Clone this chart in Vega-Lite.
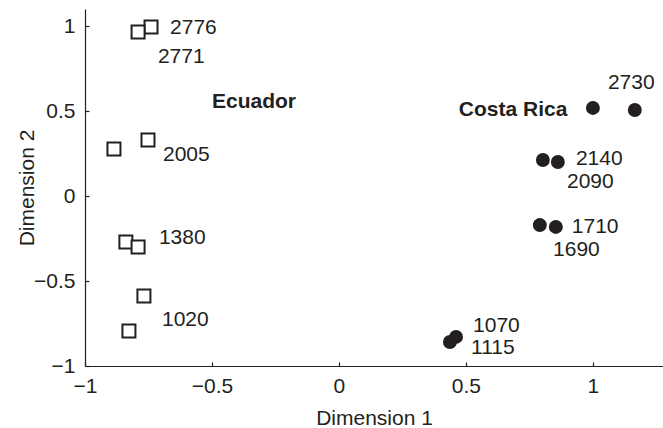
{
  "$schema": "https://vega.github.io/schema/vega-lite/v6.json",
  "width": 578,
  "height": 357,
  "autosize": {"type": "none"},
  "padding": {"left": 85, "top": 9, "right": 0, "bottom": 62},
  "background": "white",
  "config": {
    "view": {"stroke": null},
    "font": "Liberation Sans",
    "axis": {
      "grid": false,
      "domainColor": "#231f20",
      "domainWidth": 1.2,
      "tickColor": "#231f20",
      "tickWidth": 1.2,
      "tickSize": -4,
      "labelFontSize": 21,
      "labelColor": "#231f20",
      "labelFlush": false,
      "labelOverlap": false,
      "titleFontSize": 21,
      "titleFontWeight": "normal",
      "titleColor": "#231f20"
    }
  },
  "datasets": {
    "points": [
      {"site": "Ecuador", "x": -0.740, "y": 0.994},
      {"site": "Ecuador", "x": -0.791, "y": 0.965},
      {"site": "Ecuador", "x": -0.886, "y": 0.276},
      {"site": "Ecuador", "x": -0.752, "y": 0.329},
      {"site": "Ecuador", "x": -0.839, "y": -0.271},
      {"site": "Ecuador", "x": -0.791, "y": -0.300},
      {"site": "Ecuador", "x": -0.768, "y": -0.588},
      {"site": "Ecuador", "x": -0.827, "y": -0.794},
      {"site": "Costa Rica", "x": 1.000, "y": 0.518},
      {"site": "Costa Rica", "x": 1.165, "y": 0.506},
      {"site": "Costa Rica", "x": 0.803, "y": 0.212},
      {"site": "Costa Rica", "x": 0.862, "y": 0.200},
      {"site": "Costa Rica", "x": 0.791, "y": -0.171},
      {"site": "Costa Rica", "x": 0.854, "y": -0.182},
      {"site": "Costa Rica", "x": 0.437, "y": -0.859},
      {"site": "Costa Rica", "x": 0.461, "y": -0.829}
    ],
    "labels": [
      {"kind": "elevation", "text": "2776", "x": -0.665, "y": 0.988},
      {"kind": "elevation", "text": "2771", "x": -0.713, "y": 0.818},
      {"kind": "elevation", "text": "2005", "x": -0.693, "y": 0.241},
      {"kind": "elevation", "text": "1380", "x": -0.709, "y": -0.247},
      {"kind": "elevation", "text": "1020", "x": -0.697, "y": -0.729},
      {"kind": "elevation", "text": "2730", "x": 1.059, "y": 0.665},
      {"kind": "elevation", "text": "2140", "x": 0.933, "y": 0.218},
      {"kind": "elevation", "text": "2090", "x": 0.898, "y": 0.082},
      {"kind": "elevation", "text": "1710", "x": 0.917, "y": -0.182},
      {"kind": "elevation", "text": "1690", "x": 0.843, "y": -0.318},
      {"kind": "elevation", "text": "1070", "x": 0.528, "y": -0.765},
      {"kind": "elevation", "text": "1115", "x": 0.520, "y": -0.894},
      {"kind": "country", "text": "Ecuador", "x": -0.5, "y": 0.553},
      {"kind": "country", "text": "Costa Rica", "x": 0.472, "y": 0.506}
    ]
  },
  "encoding": {
    "x": {
      "field": "x",
      "type": "quantitative",
      "scale": {"domain": [-1, 1.276], "nice": false, "zero": false},
      "axis": {"values": [-1, -0.5, 0, 0.5, 1], "format": "~g", "title": "Dimension 1", "labelPadding": 13, "titleY": 41}
    },
    "y": {
      "field": "y",
      "type": "quantitative",
      "scale": {"domain": [-1, 1.1], "nice": false, "zero": false},
      "axis": {"values": [-1, -0.5, 0, 0.5, 1], "format": "~g", "title": "Dimension 2", "labelPadding": 14, "titleX": -48}
    }
  },
  "layer": [
    {
      "data": {"name": "points"},
      "transform": [{"filter": "datum.site === 'Ecuador'"}],
      "mark": {"type": "point", "shape": "square", "size": 169, "filled": false, "fill": "white", "fillOpacity": 1, "stroke": "#231f20", "strokeWidth": 2, "opacity": 1}
    },
    {
      "data": {"name": "points"},
      "transform": [{"filter": "datum.site === 'Costa Rica'"}],
      "mark": {"type": "point", "shape": "circle", "size": 194, "filled": true, "fill": "#231f20", "fillOpacity": 1, "strokeWidth": 0, "opacity": 1}
    },
    {
      "data": {"name": "labels"},
      "transform": [{"filter": "datum.kind === 'elevation'"}],
      "mark": {"type": "text", "align": "left", "baseline": "middle", "fontSize": 21, "color": "#231f20"},
      "encoding": {"text": {"field": "text", "type": "nominal"}}
    },
    {
      "data": {"name": "labels"},
      "transform": [{"filter": "datum.kind === 'country'"}],
      "mark": {"type": "text", "align": "left", "baseline": "middle", "fontSize": 21, "fontWeight": "bold", "color": "#231f20"},
      "encoding": {"text": {"field": "text", "type": "nominal"}}
    }
  ]
}
